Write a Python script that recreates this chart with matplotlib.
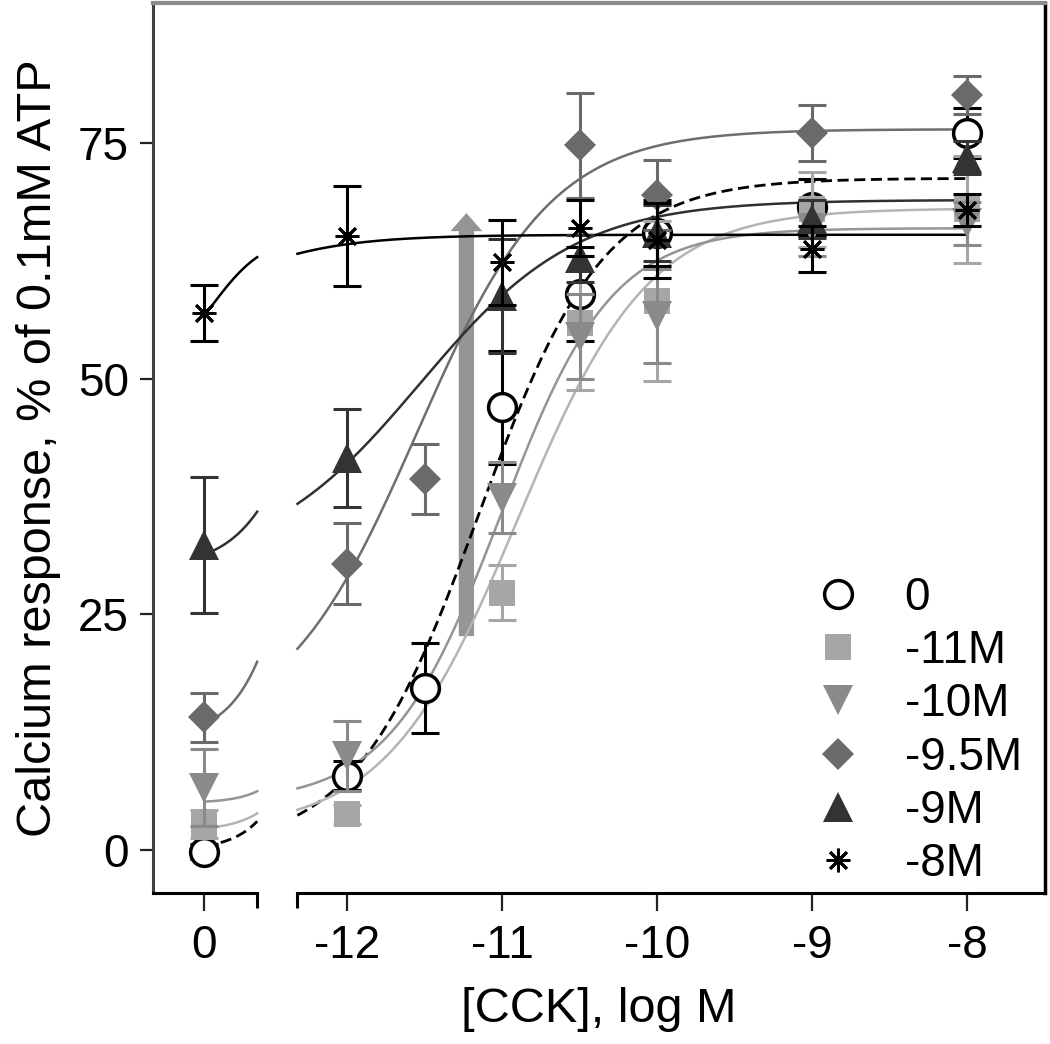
import numpy as np
import matplotlib
matplotlib.use('Agg')
import matplotlib.pyplot as plt
from matplotlib.lines import Line2D

plt.rcParams['font.family'] = ['Liberation Sans', 'DejaVu Sans']

# ---- data ----
# x = log M of CCK; 0 means "no CCK" and sits on the left, broken segment
labels = ['0', '-11M', '-10M', '-9.5M', '-9M', '-8M']

x_ctrl = [0, -12, -11.5, -11, -10.5, -10, -9, -8]
y_ctrl = [-0.2, 7.9, 17.2, 47.0, 59.0, 65.5, 68.2, 76.1]
e_ctrl = [0.8, 1.5, 4.8, 6.0, 5.0, 3.5, 3.0, 2.7]

x_m11 = [0, -12, -11, -10.5, -10, -9, -8]
y_m11 = [2.8, 3.8, 27.3, 55.9, 58.3, 68.0, 68.0]
e_m11 = [1.5, 1.0, 2.9, 7.1, 8.5, 4.0, 5.7]

x_m10 = [0, -12, -11, -10.5, -10, -9, -8]
y_m10 = [6.6, 10.0, 37.4, 54.5, 56.7, 66.0, 66.5]
e_m10 = [4.1, 3.7, 3.8, 4.5, 5.0, 3.0, 2.3]

x_m95 = [0, -12, -11.5, -10.5, -10, -9, -8]
y_m95 = [14.1, 30.4, 39.4, 74.8, 69.5, 76.1, 80.1]
e_m95 = [2.6, 4.3, 3.7, 5.6, 3.7, 3.0, 2.0]

x_m9 = [0, -12, -11, -10.5, -10, -9, -8]
y_m9 = [32.4, 41.6, 58.8, 62.8, 65.5, 67.0, 73.5]
e_m9 = [7.2, 5.2, 6.0, 2.5, 3.0, 2.0, 1.8]

x_m8 = [0, -12, -11, -10.5, -10, -9, -8]
y_m8 = [57.0, 65.2, 62.4, 66.0, 64.7, 63.8, 67.9]
e_m8 = [3.0, 5.3, 4.5, 3.0, 4.0, 2.4, 1.7]

# four-parameter logistic fits (bottom, top, logEC50, hill) per series
fit_bottom = [0.0, 2.0, 5.0, 12.0, 30.0, 50.0]
fit_top = [71.3, 68.1, 66.0, 76.5, 69.0, 65.3]
fit_ec50 = [-11.15, -10.90, -11.01, -11.55, -11.53, -13.10]
fit_hill = [1.08, 1.02, 1.21, 1.00, 0.86, 1.05]

# ---- layout of the broken x axis ----
ZERO_POS = -12.92              # where "0" is drawn
BREAK_L, BREAK_R = -12.58, -12.32
LEFT_REAL = (-13.2, -12.4)     # curve range shown on the left segment

def xpos(v):
    return ZERO_POS if v == 0 else v

def logistic(x, b, t, ec, h):
    return b + (t - b) / (1 + 10 ** ((ec - x) * h))

series = [
    (x_ctrl, y_ctrl, e_ctrl, dict(marker='o', ms=20, mfc='white', mec='black', mew=2.5), 'black', 'black', (0, (4, 2))),
    (x_m11, y_m11, e_m11, dict(marker='s', ms=19, mfc='#a6a6a6', mec='#a6a6a6', mew=0), '#a6a6a6', '#b4b4b4', '-'),
    (x_m10, y_m10, e_m10, dict(marker='v', ms=21, mfc='#8a8a8a', mec='#8a8a8a', mew=0), '#8a8a8a', '#959595', '-'),
    (x_m95, y_m95, e_m95, dict(marker='D', ms=16.5, mfc='#6a6a6a', mec='#6a6a6a', mew=0), '#6a6a6a', '#6e6e6e', '-'),
    (x_m9, y_m9, e_m9, dict(marker='^', ms=21, mfc='#333333', mec='#333333', mew=0), '#333333', '#303030', '-'),
    (x_m8, y_m8, e_m8, dict(marker=(8, 2, 0), ms=17, mfc='black', mec='black', mew=2), 'black', 'black', '-'),
]

fig = plt.figure(figsize=(10.5, 10.44), dpi=100)
ax = fig.add_axes([153 / 1050, 1 - 893 / 1044, (1045 - 153) / 1050, (893 - 3) / 1044])

# fitted curves
xr_right = np.linspace(BREAK_R, -8, 300)
xr_left = np.linspace(LEFT_REAL[0], LEFT_REAL[1], 60)
xd_left = np.linspace(ZERO_POS, BREAK_L, 60)
for i, s in enumerate(series):
    lc, ls = s[5], s[6]
    p = (fit_bottom[i], fit_top[i], fit_ec50[i], fit_hill[i])
    lw = 2.0 if i == 0 else 1.8
    ax.plot(xr_right, logistic(xr_right, *p), color=lc, ls=ls, lw=lw, zorder=2)
    ax.plot(xd_left, logistic(xr_left, *p), color=lc, ls=ls, lw=lw, zorder=2)

# gray arrow
ax.annotate('', xy=(-11.23, 67.6), xytext=(-11.23, 22.7),
            arrowprops=dict(arrowstyle='simple,head_length=1.3,head_width=2.3,tail_width=1.1',
                            mutation_scale=10, color='#959595', lw=0,
                            shrinkA=0, shrinkB=0), zorder=1)

# data with error bars
handles = []
for i, s in enumerate(series):
    xs, ys, es, mk, ec = s[0], s[1], s[2], s[3], s[4]
    xd = [xpos(v) for v in xs]
    ax.errorbar(xd, ys, yerr=es, fmt='none', ecolor=ec, elinewidth=2.2,
                capsize=10, capthick=2.2, zorder=3 + i)
    ax.plot(xd, ys, ls='none', zorder=3.5 + i, **mk)
    handles.append(Line2D([], [], ls='none', **mk))

ax.set_xlim(-13.252, -7.497)
ax.set_ylim(-4.56, 89.9)

# frame
ax.spines['bottom'].set_visible(False)
ax.spines['left'].set_color('#404040')
ax.spines['left'].set_linewidth(2.2)
ax.spines['top'].set_color('#8c8c8c')
ax.spines['top'].set_linewidth(3)
ax.spines['right'].set_color('black')
ax.spines['right'].set_linewidth(2.5)

# broken bottom axis
tr = ax.get_xaxis_transform()
ax.plot([-13.252, BREAK_L], [0, 0], color='black', lw=2.2, transform=tr, clip_on=False, zorder=10)
ax.plot([BREAK_R, -7.497], [0, 0], color='black', lw=2.2, transform=tr, clip_on=False, zorder=10)

ax.set_xticks([ZERO_POS, -12, -11, -10, -9, -8])
ax.set_xticklabels(['0', '-12', '-11', '-10', '-9', '-8'])
ax.set_xticks([BREAK_L, BREAK_R], minor=True)
ax.set_yticks([0, 25, 50, 75])
ax.tick_params(axis='x', which='major', length=13, width=1.6, pad=9, labelsize=33, color='#222222')
ax.tick_params(axis='x', which='minor', length=11, width=2.2, color='black')
ax.tick_params(axis='y', length=9.5, width=1.6, pad=8, labelsize=33, color='#222222')

ax.set_xlabel('[CCK], log M', fontsize=35, labelpad=14)
ax.set_ylabel('Calcium response, % of 0.1mM ATP', fontsize=35, labelpad=12)

ax.legend(handles, labels, loc='lower right', bbox_to_anchor=(0.974, 0.008),
          frameon=False, fontsize=33, handlelength=1.0, handletextpad=0.95,
          labelspacing=0.2, borderpad=0, borderaxespad=0)

fig.savefig('out.png', dpi=100)
